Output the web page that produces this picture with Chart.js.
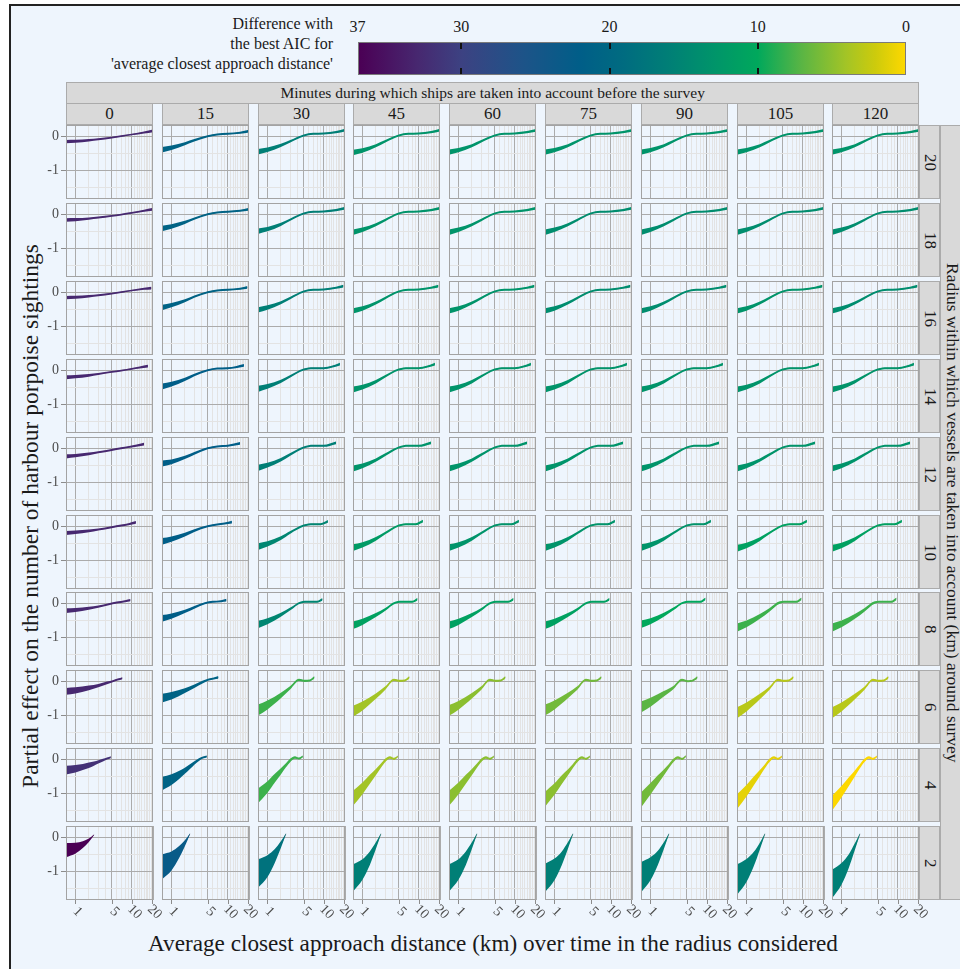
<!DOCTYPE html>
<html><head><meta charset="utf-8">
<script src="https://cdn.jsdelivr.net/npm/chart.js@4.4.1/dist/chart.umd.min.js"></script>
<style>
html,body{margin:0;padding:0;background:#fff;width:960px;height:969px;overflow:hidden;font-family:"Liberation Serif","Times New Roman",serif;}
#frame{position:absolute;left:9px;top:4px;width:990px;height:1000px;background:#EEF5FD;border-left:2px solid #222;border-top:2px solid #222;}
.txt{position:absolute;white-space:nowrap;color:#1A1A1A;}
.strip{position:absolute;background:#D9D9D9;border:1px solid #ABABAB;box-sizing:border-box;color:#1A1A1A;display:flex;align-items:center;justify-content:center;white-space:nowrap;overflow:hidden;}
.vstrip{writing-mode:vertical-rl;}
canvas{position:absolute;}
</style></head><body>
<div id="frame"></div>
<div id="root"></div>
<script>
// ---------------- DATA ----------------
const minutes = [0,15,30,45,60,75,90,105,120];
const radii = [20,18,16,14,12,10,8,6,4,2];
const xTickLabels = [1,5,10,20];
const yTickLabels = [0,-1];
const xGridValues = [1,2,3,4,5,6,7,8,9,10,11,12,13,14,15,16,17,18,19,20];
const yGridValues = [-1.5,-1,-0.5,0];
const legendTicks = [37,30,20,10,0];
const colorStops = [[37,'#4B0055'],[33,'#472870'],[30,'#3C4282'],[26,'#1E5388'],[22,'#005E88'],[19,'#006C80'],[16,'#007F76'],[13,'#00946A'],[10,'#00A85C'],[7,'#5AB544'],[4,'#A3C426'],[2,'#CDCB0C'],[0,'#FDD800']];

// difference with best AIC, rows = radius (20..2), cols = minutes (0..120)
const aicDiff = [
  [33,21,16,13,13,13,13,13,13],
  [33,21,16,13,13,14,14,14,14],
  [33,21,16,13,13,14,14,13,14],
  [33,22,16,13,13,13,13,13,13],
  [33,22,16,13,13,13,13,13,13],
  [33,22,15,12,13,13,13,11,11],
  [33,22,15,11,11,11,10,8,8],
  [33,21,8,4,5,6,7,3,3],
  [32,21,8,4,5,5,6,1,0],
  [37,23,18,16,16,16,16,16,16]
];

// x positions (km) of the read-off points, per radius row
const xKnots = [
  [0.5,1,2,3,5,7,10,15,20],
  [0.5,1,2,3,5,7,10,15,19.5],
  [0.5,1,2,3,5,7,10,15,19],
  [0.5,1,2,3,5,7,10,13,17],
  [0.5,1,2,3,5,7,10,15],
  [0.5,1,2,3,5,7,9,11.5],
  [0.5,1,2,3,4.5,6,8,9.6],
  [0.5,1,2,3,4.2,5.2,6.2,7.3],
  [0.5,1,1.5,2,2.5,3,3.6,4.2,4.85],
  [0.5,1,1.5,2,2.5]
];

// partial effect (fit) per panel
const fitR20 = [
  [-0.16,-0.15,-0.12,-0.09,-0.04,0.00,0.05,0.11,0.16],
  [-0.40,-0.34,-0.22,-0.12,0.00,0.05,0.07,0.10,0.15],
  [-0.46,-0.40,-0.27,-0.15,0.02,0.07,0.08,0.12,0.18],
  [-0.48,-0.42,-0.28,-0.15,0.02,0.07,0.08,0.12,0.18],
  [-0.47,-0.41,-0.28,-0.15,0.02,0.07,0.08,0.12,0.17],
  [-0.47,-0.41,-0.28,-0.15,0.02,0.07,0.08,0.12,0.17],
  [-0.47,-0.41,-0.28,-0.15,0.02,0.07,0.08,0.12,0.17],
  [-0.47,-0.41,-0.28,-0.15,0.02,0.07,0.08,0.12,0.17],
  [-0.47,-0.41,-0.28,-0.15,0.02,0.07,0.08,0.12,0.17]
];
const fitR18 = [
  [-0.17,-0.16,-0.13,-0.10,-0.05,-0.01,0.04,0.10,0.14],
  [-0.42,-0.36,-0.24,-0.13,0.00,0.05,0.07,0.10,0.14],
  [-0.50,-0.44,-0.30,-0.16,0.02,0.07,0.08,0.12,0.17],
  [-0.53,-0.46,-0.31,-0.17,0.02,0.07,0.08,0.12,0.17],
  [-0.53,-0.46,-0.31,-0.17,0.02,0.07,0.08,0.12,0.17],
  [-0.53,-0.46,-0.31,-0.17,0.02,0.07,0.08,0.12,0.17],
  [-0.53,-0.46,-0.31,-0.17,0.02,0.07,0.08,0.12,0.17],
  [-0.53,-0.46,-0.31,-0.17,0.02,0.07,0.08,0.12,0.17],
  [-0.53,-0.46,-0.31,-0.17,0.02,0.07,0.08,0.12,0.17]
];
const fitR16 = [
  [-0.16,-0.15,-0.12,-0.09,-0.04,0.00,0.05,0.10,0.12],
  [-0.45,-0.38,-0.25,-0.13,0.00,0.05,0.07,0.10,0.14],
  [-0.52,-0.45,-0.31,-0.17,0.02,0.07,0.08,0.13,0.18],
  [-0.55,-0.48,-0.32,-0.17,0.02,0.07,0.08,0.13,0.18],
  [-0.55,-0.48,-0.32,-0.17,0.02,0.07,0.08,0.13,0.18],
  [-0.55,-0.48,-0.32,-0.17,0.02,0.07,0.08,0.13,0.18],
  [-0.55,-0.48,-0.32,-0.17,0.02,0.07,0.08,0.13,0.18],
  [-0.55,-0.48,-0.32,-0.17,0.02,0.07,0.08,0.13,0.18],
  [-0.55,-0.48,-0.32,-0.17,0.02,0.07,0.08,0.13,0.18]
];
const fitR14 = [
  [-0.21,-0.19,-0.15,-0.11,-0.05,-0.01,0.04,0.08,0.12],
  [-0.48,-0.41,-0.27,-0.14,0.00,0.05,0.06,0.09,0.14],
  [-0.55,-0.48,-0.33,-0.18,0.02,0.06,0.06,0.10,0.18],
  [-0.57,-0.50,-0.34,-0.18,0.02,0.06,0.06,0.10,0.18],
  [-0.57,-0.50,-0.34,-0.18,0.02,0.06,0.06,0.10,0.18],
  [-0.57,-0.50,-0.34,-0.18,0.02,0.06,0.06,0.10,0.18],
  [-0.57,-0.50,-0.34,-0.18,0.02,0.06,0.06,0.10,0.18],
  [-0.57,-0.50,-0.34,-0.18,0.02,0.06,0.06,0.10,0.18],
  [-0.57,-0.50,-0.34,-0.18,0.02,0.06,0.06,0.10,0.18]
];
const fitR12 = [
  [-0.24,-0.22,-0.17,-0.12,-0.05,0.00,0.05,0.12],
  [-0.45,-0.40,-0.27,-0.15,0.00,0.05,0.07,0.14],
  [-0.58,-0.50,-0.34,-0.18,0.02,0.07,0.07,0.16],
  [-0.60,-0.52,-0.35,-0.19,0.02,0.07,0.07,0.16],
  [-0.60,-0.52,-0.35,-0.19,0.02,0.07,0.07,0.16],
  [-0.60,-0.52,-0.35,-0.19,0.02,0.07,0.07,0.16],
  [-0.60,-0.52,-0.35,-0.19,0.02,0.07,0.07,0.16],
  [-0.60,-0.52,-0.35,-0.19,0.02,0.07,0.07,0.16],
  [-0.60,-0.52,-0.35,-0.19,0.02,0.07,0.07,0.16]
];
const fitR10 = [
  [-0.20,-0.18,-0.14,-0.10,-0.03,0.02,0.06,0.11],
  [-0.45,-0.38,-0.25,-0.13,0.00,0.05,0.08,0.12],
  [-0.60,-0.52,-0.35,-0.18,0.02,0.06,0.06,0.14],
  [-0.63,-0.55,-0.37,-0.20,0.02,0.06,0.06,0.15],
  [-0.63,-0.55,-0.37,-0.20,0.02,0.06,0.06,0.15],
  [-0.63,-0.55,-0.37,-0.20,0.02,0.06,0.06,0.15],
  [-0.63,-0.55,-0.37,-0.20,0.02,0.06,0.06,0.15],
  [-0.65,-0.57,-0.38,-0.20,0.02,0.06,0.06,0.15],
  [-0.65,-0.57,-0.38,-0.20,0.02,0.06,0.06,0.15]
];
const fitR8 = [
  [-0.22,-0.20,-0.15,-0.10,-0.03,0.02,0.06,0.09],
  [-0.45,-0.38,-0.24,-0.12,0.00,0.04,0.06,0.09],
  [-0.63,-0.53,-0.34,-0.17,0.02,0.04,0.04,0.11],
  [-0.65,-0.55,-0.35,-0.18,0.02,0.04,0.04,0.12],
  [-0.65,-0.55,-0.35,-0.18,0.02,0.04,0.04,0.12],
  [-0.65,-0.55,-0.35,-0.18,0.02,0.04,0.04,0.12],
  [-0.62,-0.53,-0.34,-0.17,0.02,0.04,0.04,0.13],
  [-0.72,-0.61,-0.39,-0.20,0.02,0.04,0.04,0.13],
  [-0.72,-0.61,-0.39,-0.20,0.02,0.04,0.04,0.13]
];
const fitR6 = [
  [-0.30,-0.27,-0.20,-0.13,-0.05,0.00,0.05,0.09],
  [-0.50,-0.43,-0.28,-0.15,-0.02,0.05,0.08,0.11],
  [-0.85,-0.70,-0.42,-0.19,0.04,0.01,0.02,0.11],
  [-0.88,-0.73,-0.44,-0.20,0.04,0.01,0.02,0.11],
  [-0.86,-0.71,-0.43,-0.20,0.04,0.01,0.02,0.11],
  [-0.85,-0.70,-0.42,-0.20,0.04,0.01,0.02,0.11],
  [-0.76,-0.62,-0.37,-0.19,0.04,0.00,0.02,0.11],
  [-0.93,-0.76,-0.45,-0.21,0.04,0.01,0.02,0.11],
  [-0.93,-0.76,-0.45,-0.21,0.04,0.01,0.02,0.11]
];
const fitR4 = [
  [-0.32,-0.28,-0.23,-0.18,-0.13,-0.08,-0.03,0.02,0.06],
  [-0.72,-0.60,-0.47,-0.34,-0.22,-0.11,-0.01,0.05,0.08],
  [-1.08,-0.82,-0.56,-0.36,-0.18,-0.03,0.05,0.02,0.08],
  [-1.15,-0.86,-0.59,-0.38,-0.19,-0.03,0.05,0.01,0.08],
  [-1.15,-0.86,-0.59,-0.38,-0.19,-0.03,0.05,0.01,0.08],
  [-1.18,-0.88,-0.60,-0.39,-0.20,-0.04,0.05,0.01,0.08],
  [-1.20,-0.87,-0.60,-0.39,-0.20,-0.04,0.05,0.01,0.09],
  [-1.25,-0.93,-0.64,-0.41,-0.21,-0.04,0.05,0.01,0.08],
  [-1.30,-0.96,-0.66,-0.42,-0.21,-0.04,0.05,0.01,0.08]
];
const fitR2 = [
  [-0.38,-0.32,-0.22,-0.09,0.07],
  [-0.87,-0.70,-0.45,-0.18,0.10],
  [-1.07,-0.85,-0.55,-0.22,0.10],
  [-1.20,-0.95,-0.62,-0.25,0.10],
  [-1.20,-0.95,-0.62,-0.25,0.10],
  [-1.20,-0.95,-0.62,-0.25,0.10],
  [-1.18,-0.93,-0.61,-0.25,0.10],
  [-1.25,-0.98,-0.64,-0.26,0.10],
  [-1.38,-1.08,-0.70,-0.28,0.10]
];

// half width of the confidence band per panel
const seR20 = [
  [0.05,0.045,0.035,0.03,0.025,0.025,0.025,0.03,0.04],
  [0.08,0.065,0.045,0.035,0.03,0.03,0.03,0.03,0.04],
  [0.08,0.065,0.045,0.035,0.03,0.03,0.03,0.03,0.04],
  [0.08,0.065,0.045,0.035,0.03,0.03,0.03,0.03,0.04],
  [0.08,0.065,0.045,0.035,0.03,0.03,0.03,0.03,0.04],
  [0.08,0.065,0.045,0.035,0.03,0.03,0.03,0.03,0.04],
  [0.08,0.065,0.045,0.035,0.03,0.03,0.03,0.03,0.04],
  [0.08,0.065,0.045,0.035,0.03,0.03,0.03,0.03,0.04],
  [0.08,0.065,0.045,0.035,0.03,0.03,0.03,0.03,0.04]
];
const seR18 = seR20.map(a => a.slice());
const seR16 = seR20.map(a => a.slice());
const seR14 = [
  [0.06,0.05,0.04,0.03,0.025,0.025,0.025,0.03,0.04],
  [0.09,0.07,0.05,0.035,0.03,0.03,0.03,0.03,0.04],
  [0.09,0.07,0.05,0.035,0.03,0.03,0.03,0.03,0.04],
  [0.09,0.07,0.05,0.035,0.03,0.03,0.03,0.03,0.04],
  [0.09,0.07,0.05,0.035,0.03,0.03,0.03,0.03,0.04],
  [0.09,0.07,0.05,0.035,0.03,0.03,0.03,0.03,0.04],
  [0.09,0.07,0.05,0.035,0.03,0.03,0.03,0.03,0.04],
  [0.09,0.07,0.05,0.035,0.03,0.03,0.03,0.03,0.04],
  [0.09,0.07,0.05,0.035,0.03,0.03,0.03,0.03,0.04]
];
const seR12 = [
  [0.06,0.05,0.04,0.03,0.03,0.03,0.03,0.04],
  [0.09,0.07,0.05,0.04,0.03,0.03,0.03,0.04],
  [0.09,0.07,0.05,0.04,0.03,0.03,0.03,0.04],
  [0.09,0.07,0.05,0.04,0.03,0.03,0.03,0.04],
  [0.09,0.07,0.05,0.04,0.03,0.03,0.03,0.04],
  [0.09,0.07,0.05,0.04,0.03,0.03,0.03,0.04],
  [0.09,0.07,0.05,0.04,0.03,0.03,0.03,0.04],
  [0.09,0.07,0.05,0.04,0.03,0.03,0.03,0.04],
  [0.09,0.07,0.05,0.04,0.03,0.03,0.03,0.04]
];
const seR10 = [
  [0.06,0.05,0.04,0.03,0.03,0.03,0.03,0.04],
  [0.10,0.08,0.055,0.04,0.03,0.03,0.03,0.04],
  [0.10,0.08,0.055,0.04,0.03,0.03,0.03,0.04],
  [0.10,0.08,0.055,0.04,0.03,0.03,0.03,0.04],
  [0.10,0.08,0.055,0.04,0.03,0.03,0.03,0.04],
  [0.10,0.08,0.055,0.04,0.03,0.03,0.03,0.04],
  [0.10,0.08,0.055,0.04,0.03,0.03,0.03,0.04],
  [0.10,0.08,0.055,0.04,0.03,0.03,0.03,0.04],
  [0.10,0.08,0.055,0.04,0.03,0.03,0.03,0.04]
];
const seR8 = [
  [0.07,0.06,0.045,0.035,0.03,0.03,0.03,0.035],
  [0.10,0.08,0.05,0.04,0.03,0.03,0.03,0.04],
  [0.11,0.09,0.06,0.04,0.03,0.03,0.03,0.04],
  [0.11,0.09,0.06,0.04,0.03,0.03,0.03,0.04],
  [0.11,0.09,0.06,0.04,0.03,0.03,0.03,0.04],
  [0.11,0.09,0.06,0.04,0.03,0.03,0.03,0.04],
  [0.11,0.09,0.06,0.04,0.03,0.03,0.03,0.04],
  [0.12,0.10,0.07,0.05,0.035,0.03,0.03,0.04],
  [0.12,0.10,0.07,0.05,0.035,0.03,0.03,0.04]
];
const seR6 = [
  [0.10,0.09,0.07,0.05,0.04,0.03,0.03,0.03],
  [0.13,0.11,0.07,0.05,0.04,0.03,0.03,0.04],
  [0.16,0.13,0.08,0.05,0.035,0.03,0.03,0.04],
  [0.16,0.13,0.08,0.05,0.035,0.03,0.03,0.04],
  [0.16,0.13,0.08,0.05,0.035,0.03,0.03,0.04],
  [0.16,0.13,0.08,0.05,0.035,0.03,0.03,0.04],
  [0.16,0.13,0.08,0.05,0.035,0.03,0.03,0.04],
  [0.16,0.13,0.08,0.05,0.035,0.03,0.03,0.04],
  [0.16,0.13,0.08,0.05,0.035,0.03,0.03,0.04]
];
const seR4 = [
  [0.13,0.11,0.09,0.08,0.06,0.05,0.04,0.03,0.03],
  [0.20,0.16,0.12,0.09,0.07,0.05,0.04,0.03,0.03],
  [0.22,0.17,0.13,0.09,0.06,0.05,0.04,0.03,0.03],
  [0.22,0.17,0.13,0.09,0.06,0.05,0.04,0.03,0.03],
  [0.22,0.17,0.13,0.09,0.06,0.05,0.04,0.03,0.03],
  [0.22,0.17,0.13,0.09,0.06,0.05,0.04,0.03,0.03],
  [0.22,0.17,0.13,0.09,0.06,0.05,0.04,0.03,0.03],
  [0.22,0.17,0.13,0.09,0.06,0.05,0.04,0.03,0.03],
  [0.22,0.17,0.13,0.09,0.06,0.05,0.04,0.03,0.03]
];
const seR2 = [
  [0.21,0.16,0.10,0.05,0.01],
  [0.37,0.28,0.18,0.09,0.01],
  [0.42,0.32,0.20,0.10,0.01],
  [0.40,0.30,0.20,0.10,0.01],
  [0.40,0.30,0.20,0.10,0.01],
  [0.42,0.32,0.20,0.10,0.01],
  [0.45,0.34,0.21,0.10,0.01],
  [0.45,0.34,0.21,0.10,0.01],
  [0.42,0.32,0.20,0.10,0.01]
];
const fitRows = [fitR20,fitR18,fitR16,fitR14,fitR12,fitR10,fitR8,fitR6,fitR4,fitR2];
const seRows = [seR20,seR18,seR16,seR14,seR12,seR10,seR8,seR6,seR4,seR2];

// ---------------- LAYOUT ----------------
const X_MIN = 0.5, X_MAX = 20, Y_MIN = -1.85, Y_MAX = 0.33;
const PANEL_L = 66, COL_STEP = 95.8, PANEL_W = 87;
const PANEL_T = 125, ROW_STEP = 77.9, PANEL_H = 74;
const PAD_L = 26, PAD_B = 34, PAD_R = 10;
const SERIF = '"Liberation Serif","Times New Roman",serif';

function hexToRgb(h){h=h.replace('#','');return [parseInt(h.slice(0,2),16),parseInt(h.slice(2,4),16),parseInt(h.slice(4,6),16)];}
function colorFor(v){
  for(let i=0;i<colorStops.length-1;i++){
    const [v0,c0]=colorStops[i],[v1,c1]=colorStops[i+1];
    if(v<=v0 && v>=v1){
      const t=(v0-v)/(v0-v1), a=hexToRgb(c0), b=hexToRgb(c1);
      const m=a.map((x,k)=>Math.round(x+(b[k]-x)*t));
      return `rgb(${m[0]},${m[1]},${m[2]})`;
    }
  }
  return colorStops[colorStops.length-1][1];
}
const root = document.getElementById('root');
function el(tag, cls, style, text){const e=document.createElement(tag); if(cls) e.className=cls; Object.assign(e.style, style); if(text!==undefined) e.textContent=text; root.appendChild(e); return e;}

// legend
const LEG_L = 357.5, LEG_R = 906, LEG_T = 42, LEG_H = 33;
const legTitle = ["Difference with","the best AIC for","'average closest approach distance'"];
legTitle.forEach((t,i)=>el('div','txt',{right:(960-333)+'px',top:(14+i*20)+'px',fontSize:'16px',lineHeight:'20px',textAlign:'right'},t));
const grad = colorStops.map(([v,c])=>`${c} ${((37-v)/37*100).toFixed(2)}%`).join(',');
el('div','',{position:'absolute',left:LEG_L+'px',top:LEG_T+'px',width:(LEG_R-LEG_L)+'px',height:LEG_H+'px',background:`linear-gradient(to right, ${grad})`,boxSizing:'border-box',border:'1px solid #7a7a7a'});
legendTicks.forEach(v=>{
  const px = LEG_L + (37-v)/37*(LEG_R-LEG_L);
  el('div','txt',{left:(px-20)+'px',width:'40px',textAlign:'center',top:'17px',fontSize:'16px',lineHeight:'20px'},String(v));
  if(v!==37 && v!==0){
    el('div','',{position:'absolute',left:(px-1)+'px',top:(LEG_T+1)+'px',width:'2px',height:'6px',background:'#111'});
    el('div','',{position:'absolute',left:(px-1)+'px',top:(LEG_T+LEG_H-7)+'px',width:'2px',height:'6px',background:'#111'});
  }
});

// strips
const lastRight = PANEL_L + 8*COL_STEP + PANEL_W;
el('div','strip',{left:PANEL_L+'px',top:'82px',width:(lastRight-PANEL_L)+'px',height:'22px',fontSize:'15.5px'},'Minutes during which ships are taken into account before the survey');
minutes.forEach((m,c)=>{
  el('div','strip',{left:Math.round(PANEL_L+c*COL_STEP)+'px',top:'103px',width:PANEL_W+'px',height:'22px',fontSize:'17px'},String(m));
});
radii.forEach((rv,r)=>{
  el('div','strip vstrip',{left:Math.round(lastRight)+'px',top:Math.round(PANEL_T+r*ROW_STEP)+'px',width:'21px',height:PANEL_H+'px',fontSize:'17px'},String(rv));
});
const stripBottom = Math.round(PANEL_T+9*ROW_STEP)+PANEL_H;
el('div','strip vstrip',{left:Math.round(lastRight)+21+'px',top:PANEL_T+'px',width:'24px',height:(stripBottom-PANEL_T)+'px',fontSize:'17.5px',justifyContent:'center',alignItems:'flex-start',paddingLeft:'1px'},'Radius within which vessels are taken into account (km) around survey');

// axis titles
el('div','txt',{left:'30px',top:'516px',fontSize:'23.5px',transform:'translate(-50%,-50%) rotate(-90deg)'},'Partial effect on the number of harbour porpoise sightings');
el('div','txt',{left:'493px',top:'943px',fontSize:'23.2px',transform:'translate(-50%,-50%)'},'Average closest approach distance (km) over time in the radius considered');

// panel decoration plugin (border, tick labels via the chart scales)
const panelDeco = {
  id:'panelDeco',
  afterDraw(chart, args, opts){
    const {ctx, chartArea:a} = chart; const xs = chart.scales.x, ys = chart.scales.y;
    ctx.save();
    ctx.strokeStyle='#A3A3A3'; ctx.lineWidth=1;
    ctx.strokeRect(Math.round(a.left)+0.5, Math.round(a.top)+0.5, Math.round(a.right-a.left)-1, Math.round(a.bottom-a.top)-1);
    ctx.fillStyle='#4D4D4D'; ctx.strokeStyle='#8C8C8C';
    ctx.font = '14px '+SERIF;
    if(opts.yLabels){
      ctx.textAlign='right'; ctx.textBaseline='middle';
      yTickLabels.forEach(v=>{
        const py=Math.round(ys.getPixelForValue(v))+0.5;
        ctx.beginPath(); ctx.moveTo(a.left-5,py); ctx.lineTo(a.left,py); ctx.stroke();
        ctx.fillText(String(v), a.left-7, py);
      });
    }
    if(opts.xLabels){
      xTickLabels.forEach(v=>{
        let px=Math.round(xs.getPixelForValue(Math.log1p(v)))+0.5;
        if(px>a.right) px=a.right-0.5;
        ctx.beginPath(); ctx.moveTo(px,a.bottom); ctx.lineTo(px,a.bottom+4); ctx.stroke();
        ctx.save(); ctx.translate(px+2, a.bottom+12); ctx.rotate(Math.PI/4);
        ctx.textAlign='center'; ctx.textBaseline='middle'; ctx.fillText(String(v),0,0); ctx.restore();
      });
    }
    ctx.restore();
  }
};

const majorX = new Set(xTickLabels);
for(let r=0;r<radii.length;r++){
  for(let c=0;c<minutes.length;c++){
    const left = Math.round(PANEL_L + c*COL_STEP), top = Math.round(PANEL_T + r*ROW_STEP);
    const isBottom = r===radii.length-1;
    const padL = c===0 ? PAD_L : 0, padB = isBottom ? PAD_B : 0, padR = isBottom ? PAD_R : 0;
    const cv = document.createElement('canvas');
    cv.width = PANEL_W+padL+padR; cv.height = PANEL_H+padB;
    cv.style.left=(left-padL)+'px'; cv.style.top=top+'px';
    cv.style.width=cv.width+'px'; cv.style.height=cv.height+'px';
    root.appendChild(cv);
    const kx = xKnots[r], fit = fitRows[r][c], se = seRows[r][c];
    const col = colorFor(aicDiff[r][c]);
    const up = kx.map((x,i)=>({x:Math.log1p(x), y:fit[i]+se[i]}));
    const lo = kx.map((x,i)=>({x:Math.log1p(x), y:fit[i]-se[i]}));
    const mid = kx.map((x,i)=>({x:Math.log1p(x), y:fit[i]}));
    const common = {pointRadius:0, cubicInterpolationMode:'monotone'};
    new Chart(cv, {
      type:'line',
      data:{datasets:[
        Object.assign({data:up, borderWidth:0, borderColor:'rgba(0,0,0,0)', backgroundColor:col, fill:'+1'}, common),
        Object.assign({data:lo, borderWidth:0, borderColor:'rgba(0,0,0,0)', fill:false}, common),
        Object.assign({data:mid, borderWidth:0.8, borderColor:'rgba(0,0,0,0.5)', fill:false}, common)
      ]},
      options:{
        responsive:false, animation:false, events:[],
        layout:{padding:{left:padL, bottom:padB, top:0, right:padR}},
        plugins:{legend:{display:false}, tooltip:{enabled:false}, panelDeco:{yLabels:c===0, xLabels:isBottom}},
        scales:{
          x:{type:'linear', min:Math.log1p(X_MIN), max:Math.log1p(X_MAX),
             afterBuildTicks:s=>{s.ticks = xGridValues.map(v=>({value:Math.log1p(v)}));},
             afterFit:s=>{s.height=0;},
             ticks:{display:false}, border:{display:false},
             grid:{drawTicks:false, color:ctx=>majorX.has(xGridValues[ctx.index]) ? '#ABABAB' : '#E3E3E3', lineWidth:1}},
          y:{type:'linear', min:Y_MIN, max:Y_MAX,
             afterBuildTicks:s=>{s.ticks = yGridValues.map(v=>({value:v}));},
             afterFit:s=>{s.width=0;},
             ticks:{display:false}, border:{display:false},
             grid:{drawTicks:false, color:ctx=>Number.isInteger(yGridValues[ctx.index]) ? '#ABABAB' : '#E3E3E3', lineWidth:1}}
        }
      },
      plugins:[panelDeco]
    });
  }
}
</script>
</body></html>
